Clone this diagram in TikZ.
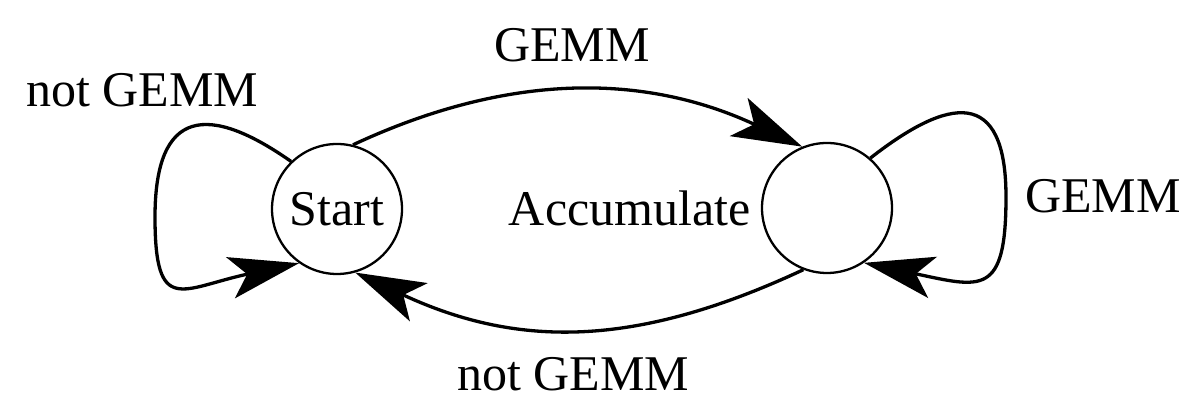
\documentclass[tikz,border=0pt]{standalone}
\usepackage{fontspec}
\setmainfont{Liberation Serif}
\usetikzlibrary{arrows.meta}

\begin{document}
\begin{tikzpicture}[x=0.5pt, y=0.5pt,
    every node/.style={font=\fontsize{25}{30}\selectfont},
    state/.style={circle, draw, line width=1.15pt, minimum size=65pt, inner sep=0pt},
    trans/.style={line width=1.65pt, -{Stealth[length=35pt, width=21pt, inset=8.5pt]}},
    translabel/.style={anchor=base, inner sep=0pt}]

    % Define canvas
    \useasboundingbox (0,0) rectangle (1179,399);

    % Draw states
    \node[state] (start) at (337,190) {Start};
    \node[state, label={[inner sep=0pt, label distance=5pt]left:Accumulate}] (accum) at (827,191) {};

    % Define turning points of the self loops
    \coordinate (startloop) at (155,182);
    \coordinate (accumloop) at (1006,202);

    % Draw transitions between states
    \draw[trans] (start.76) .. controls +(25:173) and +(155:173) .. (accum.112);
    \draw[trans] (accum.249) .. controls +(205:182) and +(-25:182) .. (start.286);

    % Draw self loops
    \draw[trans] (start.134) .. controls +(145:100) and +(90:110) .. (startloop)
        .. controls +(270:100) and +(192:120) .. (start.235);
    \draw[trans] (accum.49) .. controls +(38:100) and +(90:110) .. (accumloop)
        .. controls +(270:100) and +(-12:120) .. (accum.304);

    % Label the transitions
    \node[translabel] (gemmtop) at (572,337) {GEMM};
    \node[translabel] (notgemmleft) at (142,292) {not GEMM};
    \node[translabel] (gemmright) at (1103,186) {GEMM};
    \node[translabel] (notgemmbottom) at (573,8) {not GEMM};

\end{tikzpicture}
\end{document}
